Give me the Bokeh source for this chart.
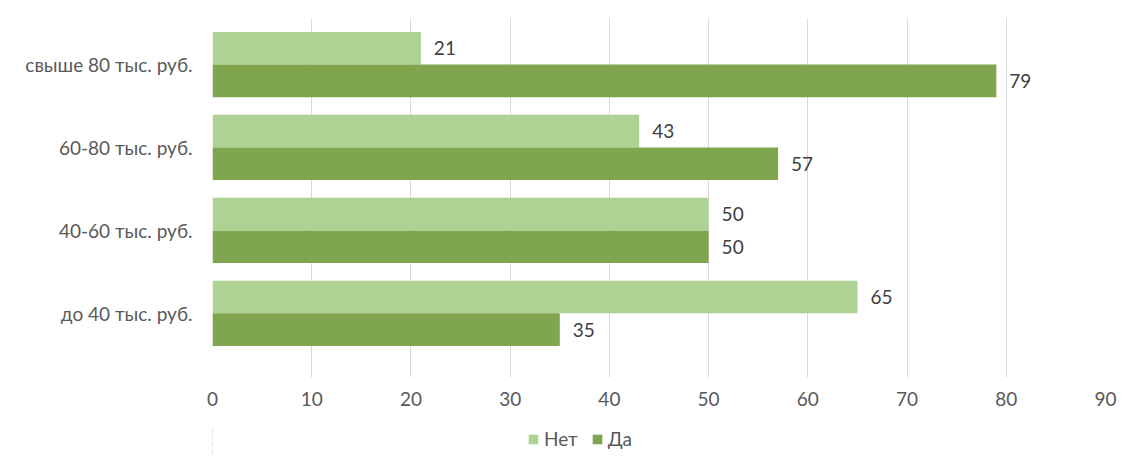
from bokeh.plotting import figure
from bokeh.layouts import column
from bokeh.models import ColumnDataSource, FixedTicker, Range1d, Legend, LegendItem, LabelSet
from bokeh.embed import file_html
from bokeh.resources import INLINE
from bokeh.core.properties import value

categories = ["до 40 тыс. руб.", "40-60 тыс. руб.", "60-80 тыс. руб.", "свыше 80 тыс. руб."]
net = [65, 50, 43, 21]
da = [35, 50, 57, 79]
x_ticks = [0, 10, 20, 30, 40, 50, 60, 70, 80, 90]

FONT = "Lato"
LIGHT = "#aed293"
DARK = "#7fa54f"
FS = "19px"

idx = list(range(len(categories)))
off = 0.197
h = 0.393

src_net = ColumnDataSource(dict(y=[i + off for i in idx], v=net, t=[str(v) for v in net]))
src_da = ColumnDataSource(dict(y=[i - off for i in idx], v=da, t=[str(v) for v in da]))

p = figure(width=1122, height=425, output_backend="svg", toolbar_location=None,
           x_range=Range1d(0, 90), y_range=Range1d(-0.774, 3.555),
           min_border_left=212, min_border_top=18, min_border_right=17, min_border_bottom=48)
p.outline_line_color = None
p.background_fill_color = "white"
p.border_fill_color = "white"

r_net = p.hbar(y="y", right="v", left=0, height=h, source=src_net, fill_color=LIGHT, line_color=None)
r_da = p.hbar(y="y", right="v", left=0, height=h, source=src_da, fill_color=DARK, line_color=None)

for s in (src_net, src_da):
    lbl = LabelSet(x="v", y="y", text="t", source=s, x_offset=13, y_offset=0,
                   text_baseline="middle", text_align="left",
                   text_font=value(FONT), text_font_size=FS, text_color="#404040")
    p.add_layout(lbl)

p.xaxis.ticker = FixedTicker(ticks=x_ticks)
p.xaxis.axis_line_color = None
p.xaxis.major_tick_line_color = None
p.xaxis.minor_tick_line_color = None
p.xaxis.major_label_standoff = 8
p.xaxis.major_label_text_font = FONT
p.xaxis.major_label_text_font_size = FS
p.xaxis.major_label_text_color = "#595959"

p.yaxis.ticker = FixedTicker(ticks=idx)
p.yaxis.major_label_overrides = {i: c for i, c in zip(idx, categories)}
p.yaxis.axis_line_color = None
p.yaxis.major_tick_line_color = None
p.yaxis.minor_tick_line_color = None
p.yaxis.major_label_standoff = 14
p.yaxis.major_label_text_font = FONT
p.yaxis.major_label_text_font_size = FS
p.yaxis.major_label_text_color = "#595959"

p.xgrid.grid_line_color = "#d9d9d9"
p.ygrid.grid_line_color = None

# legend strip below the chart (its bars lie outside its own view; only the legend shows)
pl = figure(width=1122, height=31, output_backend="svg", toolbar_location=None,
            x_range=Range1d(200, 300), y_range=Range1d(-0.774, 3.555),
            x_axis_type=None, y_axis_type=None,
            min_border_left=0, min_border_top=0, min_border_right=0, min_border_bottom=0)
pl.outline_line_color = None
pl.grid.grid_line_color = None
pl.border_fill_color = "white"
pl.background_fill_color = "white"
l_net = pl.hbar(y="y", right="v", left=0, height=h, source=src_net, fill_color=LIGHT, line_color=None)
l_da = pl.hbar(y="y", right="v", left=0, height=h, source=src_da, fill_color=DARK, line_color=None)

legend = Legend(items=[LegendItem(label="Нет", renderers=[l_net]),
                       LegendItem(label="Да", renderers=[l_da])],
                orientation="horizontal", location=(315, 6),
                label_text_font=FONT, label_text_font_size=FS, label_text_color="#595959",
                glyph_width=12, glyph_height=12, spacing=13, label_standoff=5,
                border_line_color=None, background_fill_alpha=0, padding=0, margin=0)
pl.add_layout(legend, "center")

layout = column(p, pl, spacing=0)
open("out.html", "w").write(file_html(layout, INLINE))
